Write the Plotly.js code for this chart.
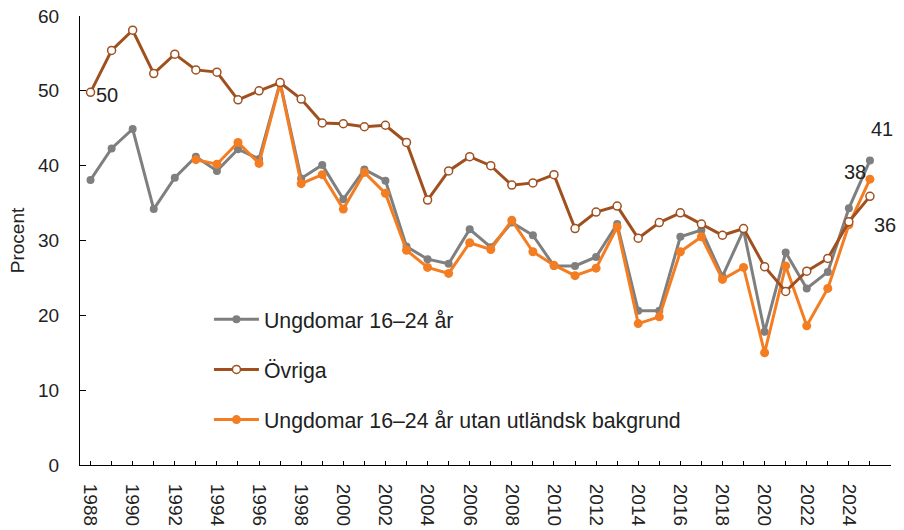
<!DOCTYPE html>
<html>
<head>
<meta charset="utf-8">
<script src="https://cdn.plot.ly/plotly-3.0.1.min.js"></script>
<style>html,body{margin:0;padding:0;background:#fff}#chart{width:904px;height:530px}</style>
</head>
<body>
<div id="chart"></div>
<script>
const years = [1988,1989,1990,1991,1992,1993,1994,1995,1996,1997,1998,1999,2000,2001,2002,2003,2004,2005,2006,2007,2008,2009,2010,2011,2012,2013,2014,2015,2016,2017,2018,2019,2020,2021,2022,2023,2024,2025];
const ungdomar = [38.1,42.3,44.9,34.2,38.4,41.2,39.3,42.2,40.9,51.1,38.3,40.1,35.5,39.5,38.0,29.2,27.5,26.9,31.5,29.1,32.4,30.7,26.6,26.6,27.8,32.2,20.6,20.6,30.5,31.4,25.2,31.4,17.8,28.4,23.6,25.8,34.3,40.7];
const ovriga = [49.8,55.4,58.1,52.3,54.9,52.8,52.5,48.8,50.0,51.1,48.9,45.7,45.6,45.2,45.4,43.1,35.4,39.3,41.2,40.0,37.4,37.7,38.8,31.6,33.8,34.6,30.3,32.4,33.7,32.2,30.7,31.6,26.5,23.2,25.9,27.6,32.5,35.9];
const utanYears = years.slice(5);
const utan = [40.8,40.2,43.1,40.3,51.0,37.6,38.8,34.2,39.1,36.3,28.7,26.4,25.6,29.7,28.8,32.7,28.5,26.7,25.3,26.3,31.8,18.9,19.8,28.5,30.5,24.8,26.4,15.0,26.6,18.6,23.6,32.1,38.2];
const names = ['Ungdomar 16–24 år','Övriga','Ungdomar 16–24 år utan utländsk bakgrund'];
const tickYears = [1988,1990,1992,1994,1996,1998,2000,2002,2004,2006,2008,2010,2012,2014,2016,2018,2020,2022,2024];

const cGray = '#7f7f7f', cBrown = '#a0501f', cOrange = '#f47d22';
const font = 'Liberation Sans, Arial, sans-serif';

const traces = [
  {x: years, y: ungdomar, name: names[0], type: 'scatter', mode: 'lines+markers',
   line: {color: cGray, width: 3}, marker: {color: cGray, size: 8},
   legendgroup: 'a', legendrank: 1},
  {x: utanYears, y: utan, name: names[2], type: 'scatter', mode: 'lines+markers',
   line: {color: cOrange, width: 3}, marker: {color: cOrange, size: 9},
   legendgroup: 'c', legendrank: 3},
  {x: years, y: ovriga, name: names[1], type: 'scatter', mode: 'lines+markers',
   line: {color: cBrown, width: 3}, marker: {color: '#ffffff', size: 8, line: {color: cBrown, width: 1.5}},
   legendgroup: 'b', legendrank: 2}
];

const last = years.length - 1;
const ann = (x, y, text, xs, ys) => ({x: x, y: y, text: text, showarrow: false, xshift: xs, yshift: ys,
  font: {family: font, size: 20, color: '#222'}});

const layout = {
  width: 904, height: 530,
  margin: {l: 80, r: 13, t: 16, b: 65},
  paper_bgcolor: '#fff', plot_bgcolor: '#fff',
  font: {family: font, color: '#222'},
  showlegend: true,
  legend: {x: 0.159, y: 0.37, xanchor: 'left', yanchor: 'top', bgcolor: 'rgba(0,0,0,0)',
    font: {family: font, size: 21.3, color: '#222'}, traceorder: 'grouped', tracegroupgap: 19.5, itemwidth: 45},
  xaxis: {range: [1987.5, 2026], showline: true, linecolor: '#000', linewidth: 1, showgrid: false, zeroline: false,
    tickmode: 'array', tickvals: tickYears, ticktext: tickYears.map(String), tickangle: 90,
    ticks: 'inside', ticklen: 4, tickcolor: '#000', ticklabelstandoff: 14,
    minor: {dtick: 1, tick0: 1988, ticks: 'inside', ticklen: 4, tickcolor: '#000'},
    tickfont: {family: font, size: 19, color: '#222'}},
  yaxis: {range: [0, 60], dtick: 10, showline: true, linecolor: '#000', linewidth: 1, showgrid: false, zeroline: false,
    ticks: 'inside', ticklen: 6, tickcolor: '#000', ticklabelstandoff: 16,
    tickfont: {family: font, size: 19, color: '#222'},
    title: {text: 'Procent', font: {family: font, size: 19, color: '#222'}, standoff: 8}},
  annotations: [
    ann(years[0], ovriga[0], '50', 16, -3),
    ann(years[last], ungdomar[last], '41', 12, 31),
    ann(years[last], utan[utan.length - 1], '38', -15, 7),
    ann(years[last], ovriga[last], '36', 15, -29)
  ]
};

Plotly.newPlot('chart', traces, layout, {displayModeBar: false, staticPlot: true});
</script>
</body>
</html>
